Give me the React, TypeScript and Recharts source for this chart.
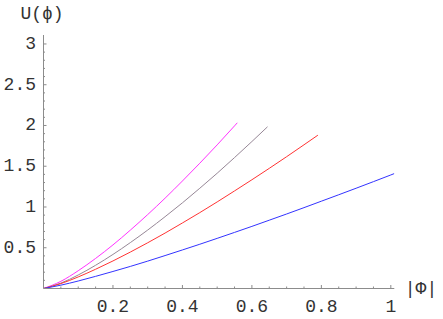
import { Line, LineChart, XAxis, YAxis } from "recharts"

// sample grid along |Phi|
const phiGrid = [0, 0.05, 0.1, 0.15, 0.2, 0.25, 0.3, 0.35, 0.4, 0.45, 0.5, 0.55, 0.6, 0.65, 0.7, 0.75, 0.8, 0.85, 0.9, 0.95, 1.0]

// U values, one per grid point, plus the end point of each curve
const magentaU = [0, 0.088, 0.218, 0.369, 0.535, 0.716, 0.907, 1.108, 1.319, 1.537, 1.762, 1.995]
const magentaEnd = [0.558, 2.033]
const greyU = [0, 0.066, 0.166, 0.285, 0.418, 0.563, 0.717, 0.881, 1.051, 1.23, 1.414, 1.606, 1.803]
const greyEnd = [0.645, 1.984]
const redU = [0, 0.06, 0.142, 0.236, 0.338, 0.447, 0.561, 0.68, 0.804, 0.931, 1.062, 1.197, 1.334, 1.474, 1.617, 1.763]
const redEnd = [0.79, 1.881]
const blueU = [0, 0.041, 0.092, 0.149, 0.209, 0.271, 0.336, 0.404, 0.473, 0.543, 0.615, 0.688, 0.762, 0.838, 0.914, 0.992, 1.071, 1.15, 1.23, 1.311, 1.393]
const blueEnd = [1.01, 1.41]

const xMajor = [0.2, 0.4, 0.6, 0.8, 1]
const yMajor = [0.5, 1, 1.5, 2, 2.5, 3]
const xTicks = Array.from({ length: 20 }, (_, i) => +((i + 1) * 0.05).toFixed(2))
const yTicks = Array.from({ length: 30 }, (_, i) => +((i + 1) * 0.1).toFixed(1))

const toPoints = (u: number[], end: number[]) => [
  ...u.map((v, i) => ({ phi: phiGrid[i], u: v })),
  { phi: end[0], u: end[1] },
]

const axisColor = "#8c8c8c"
const textColor = "#333"
const font = "'Liberation Mono', monospace"
const isMajor = (v: number, list: number[]) => list.some((m) => Math.abs(m - v) < 1e-6)

const XTick = (props: any) => {
  const { x, y, payload } = props
  const major = isMajor(payload.value, xMajor)
  return (
    <g>
      <line x1={x} x2={x} y1={y} y2={y - (major ? 3.5 : 2)} stroke={axisColor} />
      {major && (
        <text x={x} y={y + 18} textAnchor="middle" dominantBaseline="central" fontFamily={font} fontSize={18} fill={textColor}>
          {String(payload.value)}
        </text>
      )}
    </g>
  )
}

const YTick = (props: any) => {
  const { x, y, payload } = props
  const major = isMajor(payload.value, yMajor)
  return (
    <g>
      <line x1={x} x2={x + (major ? 3 : 1.5)} y1={y} y2={y} stroke={axisColor} />
      {major && (
        <text x={x - 7.5} y={y} textAnchor="end" dominantBaseline="central" fontFamily={font} fontSize={18} fill={textColor}>
          {String(payload.value)}
        </text>
      )}
    </g>
  )
}

const labelStyle = {
  position: "absolute" as const,
  transform: "translate(-50%, -50%)",
  fontFamily: font,
  fontSize: 18,
  color: textColor,
  whiteSpace: "nowrap" as const,
  lineHeight: 1,
}

export default function App() {
  return (
    <div style={{ position: "absolute", left: 0, top: 0, width: 443, height: 319, background: "#fff" }}>
      <LineChart width={443} height={319} margin={{ top: 35, right: 48.7, bottom: 0, left: 0 }}>
        <XAxis
          dataKey="phi"
          type="number"
          domain={[0, 1.01]}
          allowDataOverflow
          ticks={xTicks}
          interval={0}
          height={30.5}
          tickSize={0}
          tickMargin={0}
          tickLine={false}
          axisLine={{ stroke: axisColor }}
          tick={<XTick />}
        />
        <YAxis
          type="number"
          domain={[0, 3.11]}
          allowDataOverflow
          ticks={yTicks}
          interval={0}
          width={43.5}
          tickSize={0}
          tickMargin={0}
          tickLine={false}
          axisLine={{ stroke: axisColor }}
          tick={<YTick />}
        />
        <Line data={toPoints(magentaU, magentaEnd)} dataKey="u" type="monotone" stroke="#ff33ff" strokeWidth={1} dot={false} isAnimationActive={false} />
        <Line data={toPoints(greyU, greyEnd)} dataKey="u" type="monotone" stroke="#968796" strokeWidth={1} dot={false} isAnimationActive={false} />
        <Line data={toPoints(redU, redEnd)} dataKey="u" type="monotone" stroke="#ff3333" strokeWidth={1} dot={false} isAnimationActive={false} />
        <Line data={toPoints(blueU, blueEnd)} dataKey="u" type="monotone" stroke="#3333ff" strokeWidth={1} dot={false} isAnimationActive={false} />
      </LineChart>
      <div style={{ ...labelStyle, left: 42, top: 14 }}>U(ϕ)</div>
      <div style={{ ...labelStyle, left: 421, top: 289 }}>|Φ|</div>
    </div>
  )
}
